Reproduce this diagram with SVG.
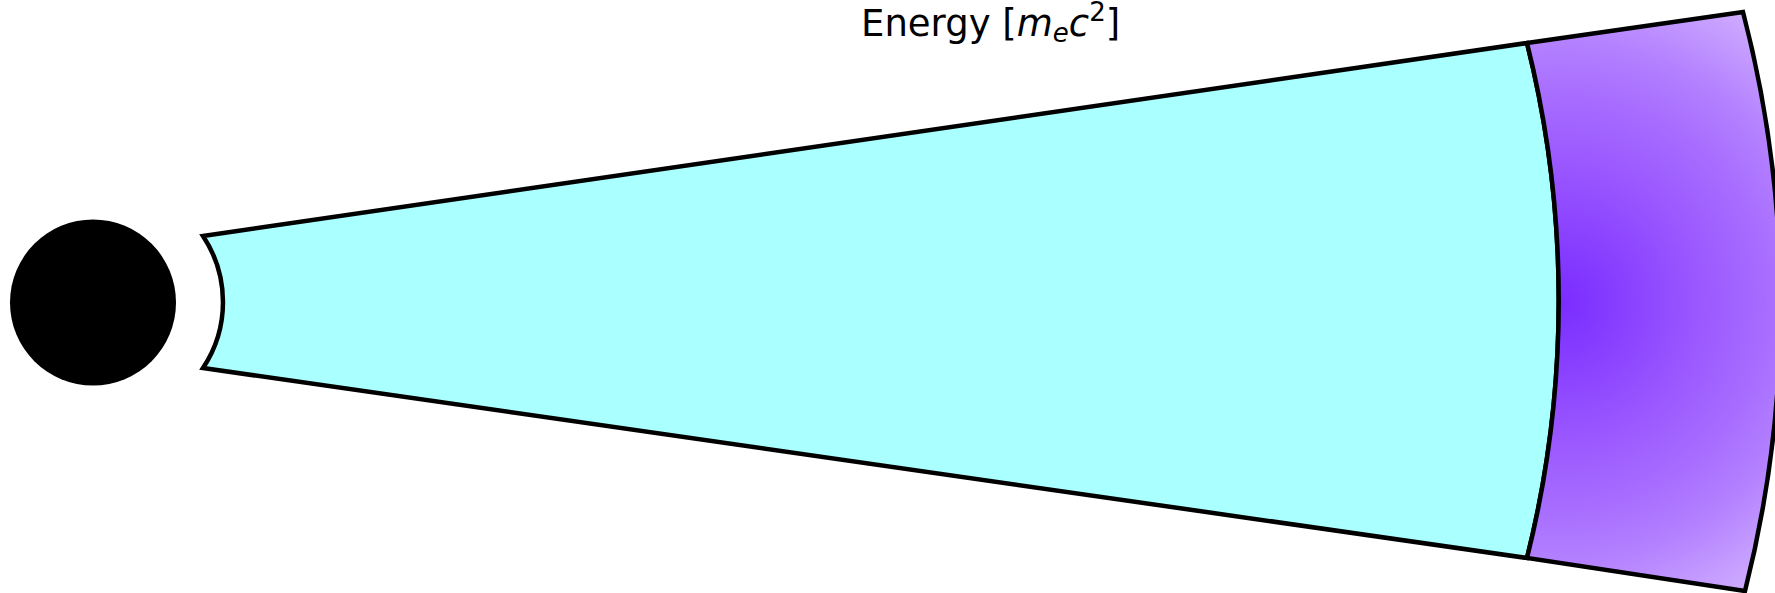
<svg xmlns="http://www.w3.org/2000/svg" width="1775" height="593" viewBox="0 0 1775 593">
  <style>
    .edge { stroke: #000000; stroke-width: 4.5; stroke-linejoin: miter; }
    .title { font-family: "DejaVu Sans", "Liberation Sans", sans-serif; font-size: 37px; fill: #000000; }
    .math { font-style: italic; }
    .small { font-size: 26px; }
  </style>
  <defs>
    <radialGradient id="shellGrad" gradientUnits="userSpaceOnUse" cx="1560" cy="302" r="350">
      <stop offset="0" stop-color="#7a2cff"/>
      <stop offset="0.4" stop-color="#9b58ff"/>
      <stop offset="0.6" stop-color="#a86eff"/>
      <stop offset="0.75" stop-color="#b482ff"/>
      <stop offset="1" stop-color="#d2b0ff"/>
    </radialGradient>
  </defs>
  <rect x="0" y="0" width="1775" height="593" fill="#ffffff"/>
  <g id="source">
    <circle cx="93" cy="302.5" r="83" fill="#000000"/>
  </g>
  <g id="cone">
    <path class="edge" fill="#aaffff" d="M 203,236 L 1527,43 A 1060 1060 0 0 1 1527,558 L 203,368 A 119 119 0 0 0 203,236 Z"/>
  </g>
  <g id="shell">
    <path class="edge" fill="url(#shellGrad)" d="M 1527,43 L 1743,12 A 1165 1165 0 0 1 1745,591 L 1527,558 A 1060 1060 0 0 0 1527,43 Z"/>
  </g>
  <g id="connectors"></g>
  <g id="label">
    <text class="title" x="861" y="36">Energy [<tspan class="math">m</tspan><tspan class="math small" dy="6">e</tspan><tspan class="math" dy="-6">c</tspan><tspan class="small" dy="-15">2</tspan><tspan dy="15">]</tspan></text>
  </g>
</svg>
